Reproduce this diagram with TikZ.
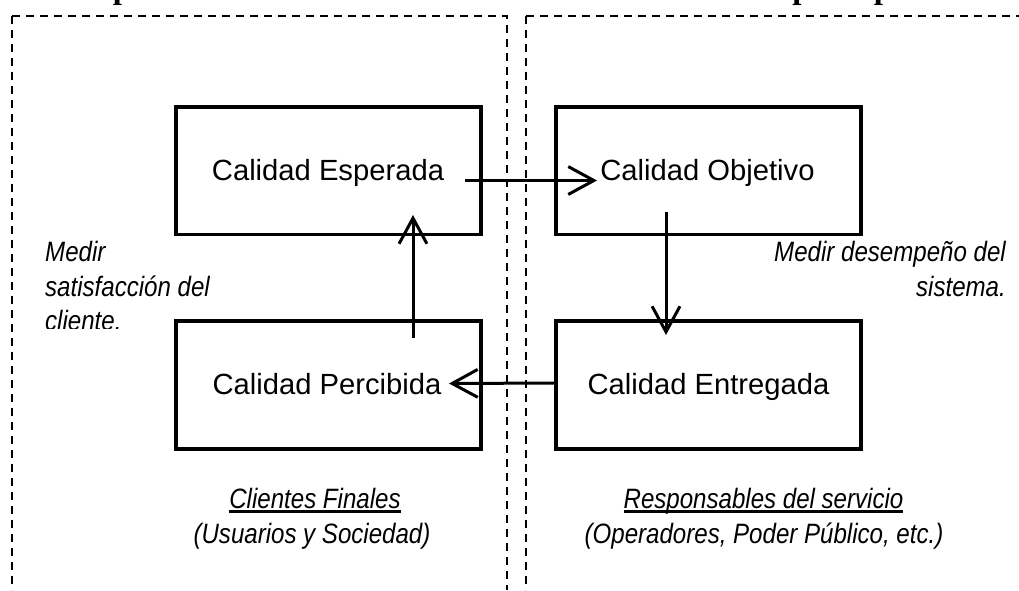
\documentclass[tikz,border=0pt]{standalone}
\usepackage{fontspec}
\setmainfont{Liberation Sans}
\newfontfamily\headfont{Liberation Serif}
\newfontfamily\notefont[FakeStretch=0.86]{Liberation Sans}
\usetikzlibrary{arrows.meta}
\newcommand{\thickul}[1]{\setbox0=\hbox{#1}\leavevmode\copy0\llap{\rule[-4.6pt]{\wd0}{2.6pt}}}
\tikzset{
  box/.style={draw=black,line width=3.6pt,rectangle,inner sep=0pt},
  zone/.style={draw=black,line width=1.7pt,dash pattern=on 8pt off 6pt},
  flow/.style={line width=3pt,-{Straight Barb[length=9mm,width=9.8mm,line width=3pt]}},
  lbl/.style={font=\fontsize{29.2}{29.2}\selectfont,inner sep=0pt,anchor=base},
  note/.style={font=\fontsize{28}{31}\selectfont\notefont\itshape,inner sep=0pt},
  head/.style={font=\fontsize{33}{33}\selectfont\headfont\bfseries,inner sep=0pt,anchor=base},
}
\begin{document}
\begin{tikzpicture}[x=1pt,y=-1pt]
\useasboundingbox (0,0) rectangle (1019,590);
\begin{scope}
\clip (0,0) rectangle (1019,590);
\node[head] (pa) at (122,-2) {p};
\node[head] (pb) at (801.5,-2) {p};
\node[head] (pc) at (883,-2) {p};
\end{scope}
\coordinate (zla) at (12,590);
\coordinate (zlb) at (12,16);
\coordinate (zlc) at (506.7,16);
\coordinate (zld) at (506.7,590);
\coordinate (zra) at (526,590);
\coordinate (zrb) at (526,16);
\coordinate (zrc) at (1019,16);
\draw[zone] (zlb) -- (zla);
\draw[zone] (zlb) -- (zlc) -- (zld);
\draw[zone] (zrb) -- (zra);
\draw[zone] (zrb) -- (zrc);
\node[box,minimum width=305pt,minimum height=127.5pt] (esp) at (328.5,170.75) {};
\node[box,minimum width=305pt,minimum height=127.5pt] (obj) at (708.5,170.75) {};
\node[box,minimum width=305pt,minimum height=128pt] (per) at (328.5,385) {};
\node[box,minimum width=305pt,minimum height=128pt] (ent) at (708.5,385) {};
\node[lbl] (tesp) at (328,180.5) {Calidad Esperada};
\node[lbl] (tobj) at (707.5,180) {Calidad Objetivo};
\node[lbl] (tper) at (327,394) {Calidad Percibida};
\node[lbl] (tent) at (708.5,394) {Calidad Entregada};
\coordinate (aa) at (465,180.5);
\coordinate (ab) at (597,180.5);
\coordinate (ba) at (666,212);
\coordinate (bb) at (666,335);
\coordinate (ca) at (554,383);
\coordinate (cb) at (449,383.5);
\coordinate (da) at (413,338);
\coordinate (db) at (413,215);
\draw[flow] (aa) -- (ab);
\draw[flow] (ba) -- (bb);
\draw[flow] (ca) -- (cb);
\draw[flow] (da) -- (db);
\node[note,anchor=base west] (n1a) at (45,261) {Medir};
\node[note,anchor=base west] (n1b) at (45,296) {satisfacci\'on del};
\begin{scope}
\clip (30,300) rectangle (170,328);
\node[note,anchor=base west] (n1c) at (45,330) {cliente.};
\end{scope}
\node[note,anchor=base east] (n2a) at (1006,261) {Medir desempe\~no del};
\node[note,anchor=base east] (n2b) at (1006,296) {sistema.};
\node[note,anchor=base] (n3a) at (315,508) {\thickul{Clientes Finales}};
\node[note,anchor=base] (n3b) at (312,543) {(Usuarios y Sociedad)};
\node[note,anchor=base] (n4a) at (763.5,508) {\thickul{Responsables del servicio}};
\node[note,anchor=base] (n4b) at (764,543) {(Operadores, Poder P\'ublico, etc.)};
\end{tikzpicture}
\end{document}
